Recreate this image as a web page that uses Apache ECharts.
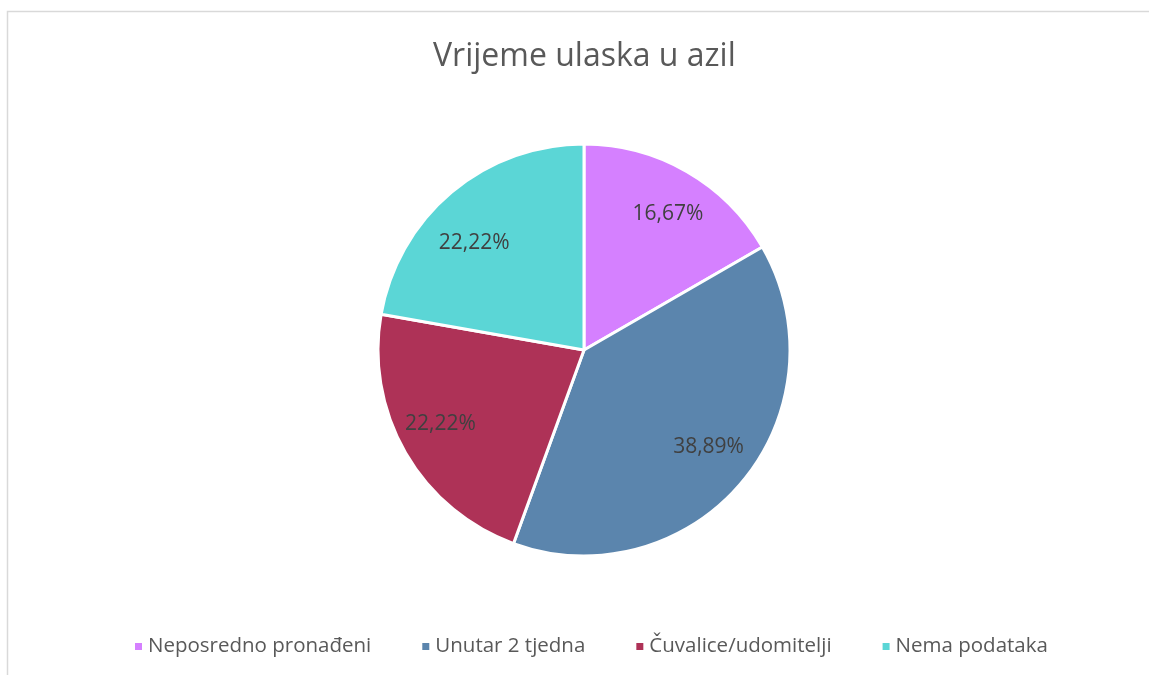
<!DOCTYPE html>
<html>
<head>
<meta charset="utf-8">
<script src="https://cdn.jsdelivr.net/npm/echarts@6/dist/echarts.min.js"></script>
<style>
  html, body { margin: 0; padding: 0; background: #fff; }
  #main { width: 1149px; height: 675px; }
</style>
</head>
<body>
<div id="main"></div>
<script>
// podaci
const categories = ['Neposredno pronađeni', 'Unutar 2 tjedna', 'Čuvalice/udomitelji', 'Nema podataka']
const counts = [3, 7, 4, 4]
const colors = ['#d580ff', '#5b85ad', '#ae3257', '#5bd6d6']
// pomaci oznaka (kao u Excelu)
const labelOffsets = [[4, 3], [2, -6], [-5, -6], [-7, 16]]

const total = counts.reduce((a, b) => a + b, 0)

const chart = echarts.init(document.getElementById('main'))
const center = [584, 350]

chart.setOption({
  backgroundColor: '#fff',
  color: colors,
  animation: false,
  title: {
    text: 'Vrijeme ulaska u azil',
    left: 428,
    top: 36,
    textStyle: { fontFamily: 'Open Sans', fontSize: 32, fontWeight: 'normal', color: '#595959' }
  },
  legend: {
    bottom: 13,
    left: 128,
    icon: 'rect',
    itemWidth: 9,
    itemHeight: 9,
    itemGap: 49,
    textStyle: { fontFamily: 'Open Sans', fontSize: 20.5, color: '#595959' },
    data: categories
  },
  graphic: [{
    type: 'polyline',
    shape: { points: [[7.5, 675], [7.5, 11.5], [1149, 11.5]] },
    style: { stroke: '#d9d9d9', lineWidth: 1.5, fill: null }
  }],
  series: [
    {
      type: 'pie',
      center: center,
      radius: [0, 206],
      startAngle: 90,
      clockwise: true,
      itemStyle: { borderColor: '#fff', borderWidth: 3 },
      label: { show: false },
      labelLine: { show: false },
      data: categories.map((name, i) => ({ name: name, value: counts[i] }))
    },
    {
      // samo za oznake postotaka
      type: 'pie',
      center: center,
      radius: [108, 206],
      startAngle: 90,
      clockwise: true,
      silent: true,
      itemStyle: { color: 'rgba(0,0,0,0)' },
      label: {
        show: true,
        position: 'inside',
        fontFamily: 'Open Sans',
        fontSize: 21,
        color: '#404040',
        formatter: p => (p.value / total * 100).toFixed(2).replace('.', ',') + '%'
      },
      labelLine: { show: false },
      data: categories.map((name, i) => ({
        name: name,
        value: counts[i],
        label: { offset: labelOffsets[i] }
      }))
    }
  ]
})
</script>
</body>
</html>
